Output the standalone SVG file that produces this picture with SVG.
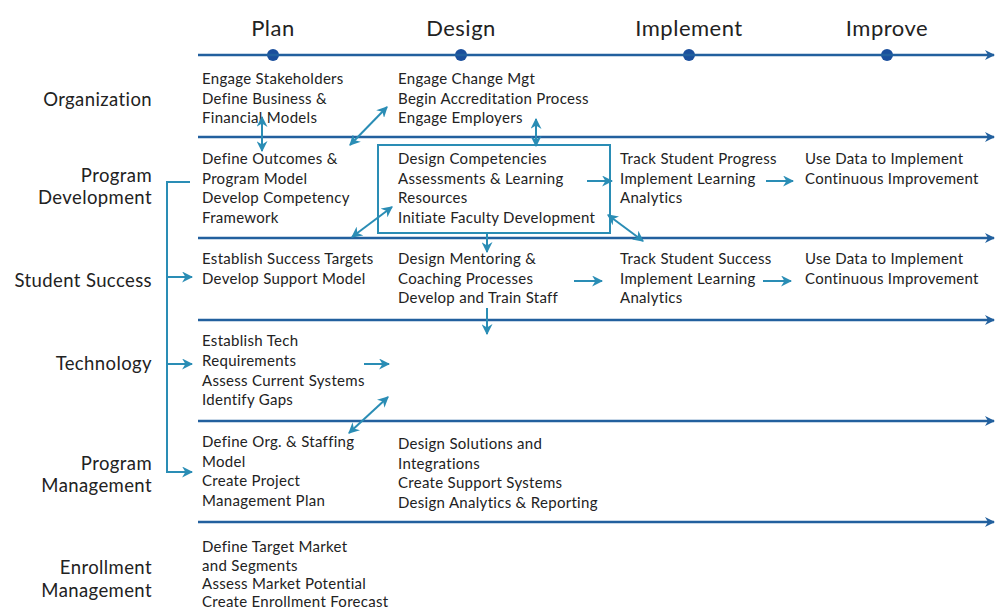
<svg xmlns="http://www.w3.org/2000/svg" width="997" height="611" viewBox="0 0 997 611">
<style>
text{font-family:Lato,"Open Sans","DejaVu Sans",sans-serif;fill:#222}
.h{font-size:22px;letter-spacing:0.5px;text-anchor:middle}
.r{font-size:18.5px;letter-spacing:0.4px;text-anchor:end}
.t{font-size:15px;letter-spacing:0.3px}
.ln{stroke:#22609e;stroke-width:2.5;fill:none}
.c{stroke:#2a8db5;stroke-width:2;fill:none}
</style>
<defs>
<marker id="ah" viewBox="0 0 10 10" refX="9" refY="5" markerWidth="5.5" markerHeight="5.5" orient="auto-start-reverse" markerUnits="strokeWidth"><path d="M0,0 L10,5 L0,10 L3,5 z" fill="#2a8db5"/></marker>
<marker id="bh" viewBox="0 0 10 10" refX="9" refY="5" markerWidth="4" markerHeight="4" orient="auto" markerUnits="strokeWidth"><path d="M0,0 L10,5 L0,10 L3,5 z" fill="#22609e"/></marker>
</defs>
<rect width="997" height="611" fill="#fff"/>
<g id="timeline">
<text class="h" x="273" y="36">Plan</text>
<text class="h" x="461" y="36">Design</text>
<text class="h" x="689" y="36">Implement</text>
<text class="h" x="887" y="36">Improve</text>
<g fill="#1a4f9c"><circle cx="273" cy="55" r="6"/><circle cx="461" cy="55" r="6"/><circle cx="689" cy="55" r="6"/><circle cx="887" cy="55" r="6"/></g>
</g>
<g id="lanes">
<line class="ln" x1="198" y1="55" x2="994" y2="55" marker-end="url(#bh)"/>
<line class="ln" x1="198" y1="137" x2="994" y2="137" marker-end="url(#bh)"/>
<line class="ln" x1="198" y1="238" x2="994" y2="238" marker-end="url(#bh)"/>
<line class="ln" x1="198" y1="320" x2="994" y2="320" marker-end="url(#bh)"/>
<line class="ln" x1="198" y1="421" x2="994" y2="421" marker-end="url(#bh)"/>
<line class="ln" x1="198" y1="522" x2="994" y2="522" marker-end="url(#bh)"/>
</g>
<g id="row-labels">
<text class="r" x="152" y="106">Organization</text>
<text class="r" x="152" y="182">Program</text>
<text class="r" x="152" y="204">Development</text>
<text class="r" x="152" y="287">Student Success</text>
<text class="r" x="152" y="370">Technology</text>
<text class="r" x="152" y="470">Program</text>
<text class="r" x="152" y="492">Management</text>
<text class="r" x="152" y="574">Enrollment</text>
<text class="r" x="152" y="597">Management</text>
</g>
<g id="org-plan"><text class="t" x="202" y="84">Engage Stakeholders</text><text class="t" x="202" y="103.5">Define Business &amp;</text><text class="t" x="202" y="123">Financial Models</text></g>
<g id="org-design"><text class="t" x="398" y="84">Engage Change Mgt</text><text class="t" x="398" y="103.5">Begin Accreditation Process</text><text class="t" x="398" y="123">Engage Employers</text></g>
<g id="pd-plan"><text class="t" x="202" y="164">Define Outcomes &amp;</text><text class="t" x="202" y="183.5">Program Model</text><text class="t" x="202" y="203">Develop Competency</text><text class="t" x="202" y="222.5">Framework</text></g>
<g id="pd-design"><rect x="378" y="145" width="232" height="88" fill="none" stroke="#2a8db5" stroke-width="2"/><text class="t" x="398" y="164">Design Competencies</text><text class="t" x="398" y="183.5">Assessments &amp; Learning</text><text class="t" x="398" y="203">Resources</text><text class="t" x="398" y="222.5">Initiate Faculty Development</text></g>
<g id="pd-implement"><text class="t" x="620" y="164">Track Student Progress</text><text class="t" x="620" y="183.5">Implement Learning</text><text class="t" x="620" y="203">Analytics</text></g>
<g id="pd-improve"><text class="t" x="805" y="164">Use Data to Implement</text><text class="t" x="805" y="183.5">Continuous Improvement</text></g>
<g id="ss-plan"><text class="t" x="202" y="264">Establish Success Targets</text><text class="t" x="202" y="283.5">Develop Support Model</text></g>
<g id="ss-design"><text class="t" x="398" y="264">Design Mentoring &amp;</text><text class="t" x="398" y="283.5">Coaching Processes</text><text class="t" x="398" y="303">Develop and Train Staff</text></g>
<g id="ss-implement"><text class="t" x="620" y="264">Track Student Success</text><text class="t" x="620" y="283.5">Implement Learning</text><text class="t" x="620" y="303">Analytics</text></g>
<g id="ss-improve"><text class="t" x="805" y="264">Use Data to Implement</text><text class="t" x="805" y="283.5">Continuous Improvement</text></g>
<g id="tech-plan"><text class="t" x="202" y="346">Establish Tech</text><text class="t" x="202" y="366">Requirements</text><text class="t" x="202" y="385.5">Assess Current Systems</text><text class="t" x="202" y="405">Identify Gaps</text></g>
<g id="pm-plan"><text class="t" x="202" y="447">Define Org. &amp; Staffing</text><text class="t" x="202" y="466.5">Model</text><text class="t" x="202" y="486">Create Project</text><text class="t" x="202" y="505.5">Management Plan</text></g>
<g id="pm-design"><text class="t" x="398" y="449">Design Solutions and</text><text class="t" x="398" y="468.5">Integrations</text><text class="t" x="398" y="488">Create Support Systems</text><text class="t" x="398" y="507.5">Design Analytics &amp; Reporting</text></g>
<g id="em-plan"><text class="t" x="202" y="552">Define Target Market</text><text class="t" x="202" y="570.5">and Segments</text><text class="t" x="202" y="589">Assess Market Potential</text><text class="t" x="202" y="607">Create Enrollment Forecast</text></g>
<g id="connectors">
<path class="c" d="M190,182 H167 V472 H192" marker-end="url(#ah)"/>
<line class="c" x1="167" y1="277" x2="192" y2="277" marker-end="url(#ah)"/>
<line class="c" x1="167" y1="364" x2="192" y2="364" marker-end="url(#ah)"/>
<line class="c" x1="262" y1="117" x2="262" y2="151" marker-start="url(#ah)" marker-end="url(#ah)"/>
<line class="c" x1="350" y1="145" x2="387" y2="107" marker-start="url(#ah)" marker-end="url(#ah)"/>
<line class="c" x1="536" y1="119" x2="536" y2="146" marker-start="url(#ah)" marker-end="url(#ah)"/>
<line class="c" x1="352" y1="237" x2="392" y2="207" marker-start="url(#ah)" marker-end="url(#ah)"/>
<line class="c" x1="587" y1="181" x2="612" y2="181" marker-end="url(#ah)"/>
<line class="c" x1="608" y1="215" x2="643" y2="241" marker-start="url(#ah)" marker-end="url(#ah)"/>
<line class="c" x1="766" y1="181" x2="793" y2="181" marker-end="url(#ah)"/>
<line class="c" x1="487" y1="233" x2="487" y2="252" marker-end="url(#ah)"/>
<line class="c" x1="574" y1="281" x2="602" y2="281" marker-end="url(#ah)"/>
<line class="c" x1="763" y1="281" x2="791" y2="281" marker-end="url(#ah)"/>
<line class="c" x1="487" y1="308" x2="487" y2="334" marker-end="url(#ah)"/>
<line class="c" x1="364" y1="364" x2="389" y2="364" marker-end="url(#ah)"/>
<line class="c" x1="349" y1="433" x2="388" y2="397" marker-start="url(#ah)" marker-end="url(#ah)"/>
</g>
</svg>
